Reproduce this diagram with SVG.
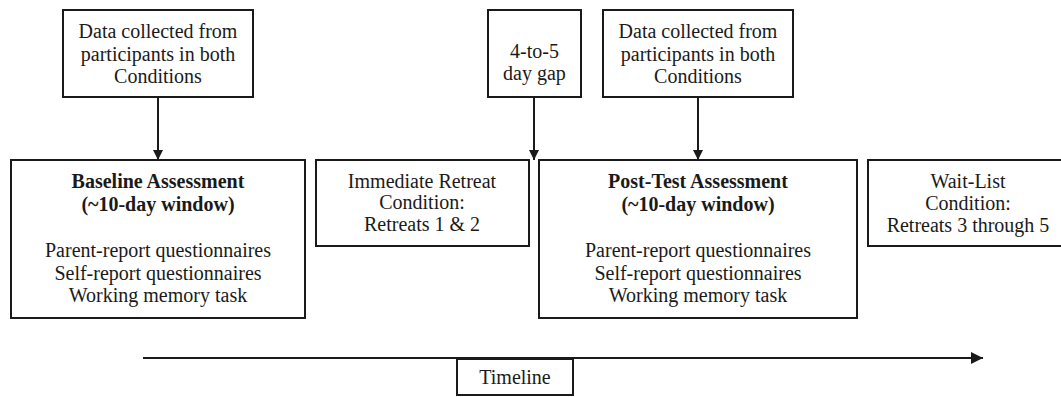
<svg xmlns="http://www.w3.org/2000/svg" width="1061" height="397" viewBox="0 0 1061 397">
  <style>
    .box { fill: #fff; stroke: #1a1a1a; stroke-width: 2; }
    .txt { font-family: "Liberation Serif", "Times New Roman", serif; font-size: 20px; fill: #1a1a1a; text-anchor: middle; }
    .b { font-weight: bold; }
    .line { stroke: #1a1a1a; stroke-width: 2; fill: none; }
  </style>
  <defs>
    <marker id="head" viewBox="0 0 10 10" refX="10" refY="5" markerWidth="10" markerHeight="10" markerUnits="userSpaceOnUse" orient="auto">
      <path d="M0,0 L10,5 L0,10 Z" fill="#1a1a1a"/>
    </marker>
    <marker id="headLarge" viewBox="0 0 10 10" refX="10" refY="5" markerWidth="12" markerHeight="12" markerUnits="userSpaceOnUse" orient="auto">
      <path d="M0,0 L10,5 L0,10 Z" fill="#1a1a1a"/>
    </marker>
  </defs>

  <rect width="1061" height="397" fill="#fff"/>

  <!-- connectors -->
  <g id="connectors">
    <line class="line" x1="158" y1="97" x2="158" y2="160" marker-end="url(#head)"/>
    <line class="line" x1="534" y1="97" x2="534" y2="160" marker-end="url(#head)"/>
    <line class="line" x1="698" y1="97" x2="698" y2="160" marker-end="url(#head)"/>
    <line class="line" x1="143" y1="358" x2="983" y2="358" marker-end="url(#headLarge)"/>
  </g>

  <g id="data-baseline">
    <rect class="box" x="63" y="10" width="190" height="87"/>
    <text class="txt" x="158" y="38">Data collected from</text>
    <text class="txt" x="158" y="61">participants in both</text>
    <text class="txt" x="158" y="83">Conditions</text>
  </g>

  <g id="baseline">
    <rect class="box" x="11" y="160" width="294" height="158"/>
    <text class="txt b" x="158" y="188">Baseline Assessment</text>
    <text class="txt b" x="158" y="211">(~10-day window)</text>
    <text class="txt" x="158" y="257">Parent-report questionnaires</text>
    <text class="txt" x="158" y="280">Self-report questionnaires</text>
    <text class="txt" x="158" y="302">Working memory task</text>
  </g>

  <g id="immediate">
    <rect class="box" x="316" y="160" width="213" height="86"/>
    <text class="txt" x="422" y="188">Immediate Retreat</text>
    <text class="txt" x="422" y="209">Condition:</text>
    <text class="txt" x="422" y="231">Retreats 1 &amp; 2</text>
  </g>

  <g id="gap">
    <rect class="box" x="488" y="10" width="93" height="87"/>
    <text class="txt" x="534.5" y="58">4-to-5</text>
    <text class="txt" x="534.5" y="80">day gap</text>
  </g>

  <g id="data-posttest">
    <rect class="box" x="603" y="10" width="190" height="87"/>
    <text class="txt" x="698" y="38">Data collected from</text>
    <text class="txt" x="698" y="61">participants in both</text>
    <text class="txt" x="698" y="83">Conditions</text>
  </g>

  <g id="posttest">
    <rect class="box" x="539" y="160" width="318" height="158"/>
    <text class="txt b" x="698" y="188">Post-Test Assessment</text>
    <text class="txt b" x="698" y="211">(~10-day window)</text>
    <text class="txt" x="698" y="257">Parent-report questionnaires</text>
    <text class="txt" x="698" y="280">Self-report questionnaires</text>
    <text class="txt" x="698" y="302">Working memory task</text>
  </g>

  <g id="waitlist">
    <rect class="box" x="868" y="160" width="200" height="86"/>
    <text class="txt" x="968" y="188">Wait-List</text>
    <text class="txt" x="968" y="210">Condition:</text>
    <text class="txt" x="968" y="232">Retreats 3 through 5</text>
  </g>

  <g id="timeline">
    <rect class="box" x="457" y="359" width="116" height="36"/>
    <text class="txt" x="515" y="384">Timeline</text>
  </g>
</svg>
